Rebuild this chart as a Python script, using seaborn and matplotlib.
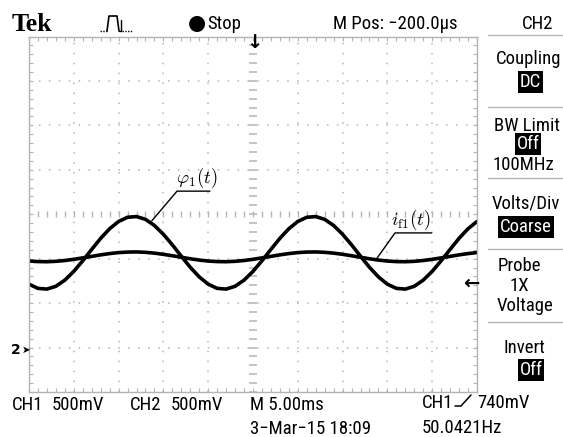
import numpy as np
import pandas as pd
import seaborn as sns
import matplotlib.pyplot as plt
from matplotlib.lines import Line2D
from matplotlib.ticker import MultipleLocator

W, H = 563, 437

# time axis in ms (5 ms/div, 10 divisions on screen)
t_ms = list(range(-25, 26))
# CH1 trace phi_1(t), in divisions (500 mV/div)
phi1 = [-1.574, -1.668, -1.684, -1.621, -1.483, -1.285, -1.047, -0.791, -0.542, -0.326,
        -0.162, -0.068, -0.052, -0.115, -0.253, -0.451, -0.689, -0.945, -1.194, -1.410,
        -1.574, -1.668, -1.684, -1.621, -1.483, -1.285, -1.047, -0.791, -0.542, -0.326,
        -0.162, -0.068, -0.052, -0.115, -0.253, -0.451, -0.689, -0.945, -1.194, -1.410,
        -1.574, -1.668, -1.684, -1.621, -1.483, -1.285, -1.047, -0.791, -0.542, -0.326,
        -0.162]
# CH2 trace i_f1(t), in divisions (500 mV/div)
i_f1 = [-1.053, -1.065, -1.068, -1.059, -1.041, -1.014, -0.982, -0.948, -0.914, -0.885,
        -0.863, -0.851, -0.848, -0.857, -0.875, -0.902, -0.934, -0.968, -1.002, -1.031,
        -1.053, -1.065, -1.068, -1.059, -1.041, -1.014, -0.982, -0.948, -0.914, -0.885,
        -0.863, -0.851, -0.848, -0.857, -0.875, -0.902, -0.934, -0.968, -1.002, -1.031,
        -1.053, -1.065, -1.068, -1.059, -1.041, -1.014, -0.982, -0.948, -0.914, -0.885,
        -0.863]

status_top = ["Stop", "M Pos: \u2212200.0\u00b5s", "CH2"]
menu_labels = ["Coupling", "BW Limit", "100MHz", "Volts/Div", "Probe", "1X", "Voltage", "Invert"]
menu_values = ["DC", "Off", "Coarse", "Off"]
bottom_row1 = ["CH1", "500mV", "CH2", "500mV", "M 5.00ms", "CH1", "740mV"]
bottom_row2 = ["3\u2212Mar\u221215 18:09", "50.0421Hz"]

sns.set_theme(style="white")
plt.rcParams['font.family'] = ['Roboto Condensed', 'Liberation Sans', 'DejaVu Sans']
plt.rcParams['mathtext.fontset'] = 'cm'

GRID = '#b4b4b4'
FS = 13.5
fig = plt.figure(figsize=(W / 100, H / 100), dpi=100)
fig.patch.set_facecolor('white')

# screen area in pixels: x 29..477, y 36.5..392
ax = fig.add_axes([29 / W, 1 - 392 / H, 448 / W, 355.5 / H])
ax.set_xlim(-25, 25)
ax.set_ylim(-4, 4)
for s in ax.spines.values():
    s.set_color(GRID)
    s.set_linewidth(1)
ax.xaxis.set_major_locator(MultipleLocator(5))
ax.xaxis.set_minor_locator(MultipleLocator(1))
ax.yaxis.set_major_locator(MultipleLocator(1))
ax.yaxis.set_minor_locator(MultipleLocator(0.2))
ax.tick_params(which='both', direction='in', top=True, right=True, bottom=True, left=True,
               labelbottom=False, labelleft=False, color=GRID, length=3, width=0.8)

# dotted graticule
for xv in [-20, -15, -10, -5, 5, 10, 15, 20]:
    ax.axvline(xv, color=GRID, lw=1.1, ls=(0, (1, 5.5)))
for yv in [-3, -2, -1, 1, 2, 3]:
    ax.axhline(yv, color=GRID, lw=1.1, ls=(0, (1, 5.5)))
# centre lines with minor ticks
ax.plot(np.arange(-25, 25.5, 1), np.zeros(51), ls='none', marker='|', ms=5, mew=1, color=GRID)
ax.plot(np.zeros(41), np.arange(-4, 4.1, 0.2), ls='none', marker='_', ms=6, mew=1.1, color=GRID)

# traces
df = pd.DataFrame({
    't': t_ms + t_ms,
    'v': phi1 + i_f1,
    'trace': ['phi1'] * len(t_ms) + ['i_f1'] * len(t_ms),
})
sns.lineplot(data=df, x='t', y='v', units='trace', estimator=None, color='black',
             lw=2.6, ax=ax, legend=False)
ax.set_xlabel('')
ax.set_ylabel('')

# trace labels with leader lines
ax.plot([-11.3, -8.48, -4.8], [-0.15, 0.52, 0.52], color='black', lw=1)
ax.text(-6.3, 0.70, r'$\varphi_1(t)$', ha='center', va='baseline', fontsize=13.5, color='black')
ax.plot([13.8, 15.85, 19.94], [-1.0, -0.42, -0.42], color='black', lw=1)
ax.text(17.6, -0.24, r'$i_{\mathrm{f1}}(t)$', ha='center', va='baseline', fontsize=13.5, color='black')


def ftext(x, y, s, **kw):
    kw.setdefault('va', 'baseline')
    kw.setdefault('fontsize', FS)
    kw.setdefault('color', 'black')
    fig.text(x / W, 1 - y / H, s, **kw)


def fline(xs, ys, **kw):
    fig.add_artist(Line2D([x / W for x in xs], [1 - y / H for y in ys],
                          transform=fig.transFigure, **kw))


# top status line
ftext(12, 31, "Tek", family=['Liberation Serif', 'DejaVu Serif'], weight='bold', fontsize=18.5)
fline([100, 107], [31, 31], color='black', lw=1, ls=(0, (1, 1)))
fline([107, 109, 117, 119], [31, 16, 16, 31], color='black', lw=1.2)
fline([119, 121, 121], [31, 31, 20], color='black', lw=1)
fline([122, 132], [31, 31], color='black', lw=1, ls=(0, (1, 1)))
ftext(197, 29, "\u25cf", ha='center', fontsize=15, family=['DejaVu Sans'])
ftext(207, 29, status_top[0])
ftext(333, 29, status_top[1])
ftext(538, 29, status_top[2], ha='center')

# markers on the screen
ftext(254, 48, "\u2193", ha='center', fontsize=14, weight='bold', family=['DejaVu Sans'])
ftext(471, 289, "\u2190", ha='center', fontsize=14, weight='bold', family=['DejaVu Sans'])
ftext(11, 354, "2", fontsize=10, weight='bold', family=['DejaVu Sans'])
ftext(21.5, 353, "\u27a4", fontsize=7.5, family=['DejaVu Sans'])

# right-hand menu
for yy in [35, 107, 178, 249, 322]:
    fline([488, 563], [yy, yy], color=GRID, lw=1)
ftext(529, 64, menu_labels[0], ha='center')
ftext(527, 131, menu_labels[1], ha='center')
ftext(523, 170, menu_labels[2], ha='center')
ftext(526, 208, menu_labels[3], ha='center')
ftext(519, 271, menu_labels[4], ha='center')
ftext(519, 291, menu_labels[5], ha='center')
ftext(525, 311, menu_labels[6], ha='center')
ftext(524, 353, menu_labels[7], ha='center')
box = dict(facecolor='black', edgecolor='none', boxstyle='square,pad=0.1')
ftext(530, 87, menu_values[0], ha='center', color='white', bbox=box)
ftext(528, 149, menu_values[1], ha='center', color='white', bbox=box)
ftext(526, 232, menu_values[2], ha='center', color='white', bbox=box)
ftext(531, 375, menu_values[3], ha='center', color='white', bbox=box)

# bottom readout
ftext(12, 410, bottom_row1[0])
ftext(52, 410, bottom_row1[1])
ftext(130, 410, bottom_row1[2])
ftext(171, 410, bottom_row1[3])
ftext(250, 410, bottom_row1[4])
ftext(422, 408, bottom_row1[5])
fline([455, 461, 471], [406, 406, 395], color='black', lw=1.1)
ftext(477, 408, bottom_row1[6])
ftext(250, 434, bottom_row2[0])
ftext(422, 433, bottom_row2[1])

fig.savefig('out.png', dpi=100, facecolor='white')
